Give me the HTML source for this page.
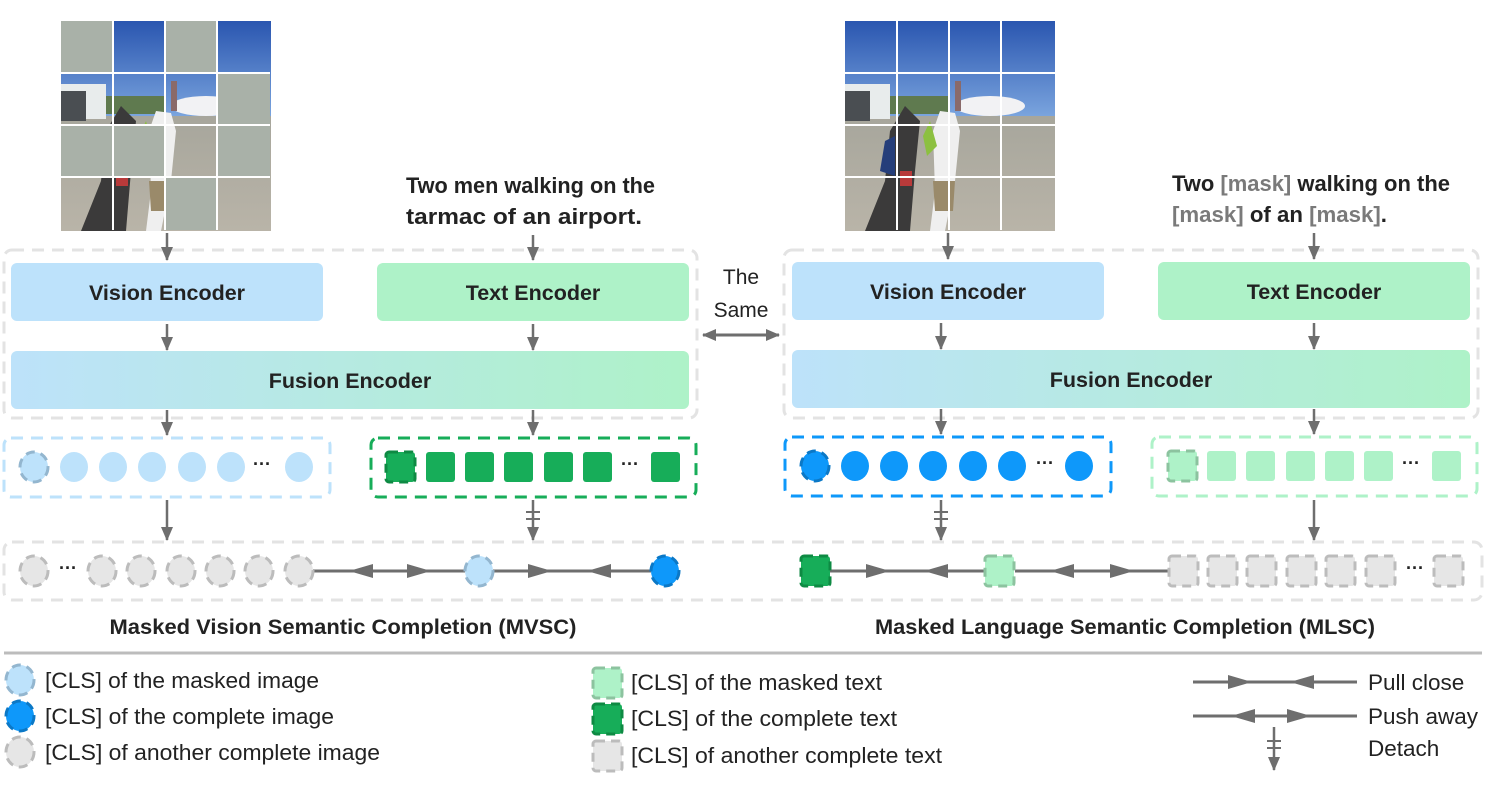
<!DOCTYPE html>
<html><head><meta charset="utf-8"><style>
html,body{margin:0;padding:0;background:#fff;}
svg{display:block;font-family:"Liberation Sans",sans-serif;}
.b{font-weight:bold;fill:#222;}
</style></head><body>
<svg width="1487" height="792" viewBox="0 0 1487 792" xmlns="http://www.w3.org/2000/svg">
<defs>
<linearGradient id="fus" x1="0" x2="1" y1="0" y2="0"><stop offset="0" stop-color="#bde2fa"/><stop offset="1" stop-color="#aef2c8"/></linearGradient>
<linearGradient id="sky" x1="0" x2="0" y1="0" y2="1"><stop offset="0" stop-color="#2a56b0"/><stop offset="1" stop-color="#7ea8e0"/></linearGradient>
<linearGradient id="gnd" x1="0" x2="0" y1="0" y2="1"><stop offset="0" stop-color="#a7a69c"/><stop offset="1" stop-color="#b9b4a8"/></linearGradient>
<marker id="ah" markerWidth="14" markerHeight="12" refX="13" refY="6" orient="auto" markerUnits="userSpaceOnUse"><path d="M0,0 L14,6 L0,12 Z" fill="#6e6e6e"/></marker>
<g id="photo">
<rect x="0" y="0" width="210" height="100" fill="url(#sky)"/>
<rect x="0" y="95" width="210" height="115" fill="url(#gnd)"/>
<rect x="0" y="63" width="45" height="35" fill="#e8ecec"/>
<rect x="0" y="70" width="25" height="30" fill="#4a4e52"/>
<rect x="45" y="75" width="60" height="18" fill="#5f7a4f"/>
<ellipse cx="145" cy="85" rx="35" ry="10" fill="#f2f2f4"/>
<rect x="110" y="60" width="6" height="30" fill="#8a6a6a"/>
<path d="M20,210 L40,160 L45,110 L60,85 L75,100 L70,150 L65,210 Z" fill="#3b3a3a"/>
<path d="M50,115 L40,120 L35,150 L50,155 Z" fill="#253e7a"/>
<rect x="55" y="150" width="12" height="15" fill="#b83a3a"/>
<path d="M85,210 L90,170 L88,110 L95,90 L110,92 L115,110 L110,160 L100,210 Z" fill="#efefef"/>
<path d="M88,160 L110,160 L108,190 L90,190 Z" fill="#9a8a6a"/>
<path d="M85,100 L78,115 L82,135 L92,125 Z" fill="#8cc040"/>
</g>
</defs>

<g transform="translate(61,21)"><use href="#photo"/></g>
<g fill="#a9b1a8">
<rect x="61" y="21" width="53" height="53"/><rect x="165" y="21" width="53" height="53"/>
<rect x="217" y="73" width="53" height="53"/>
<rect x="61" y="125" width="53" height="53"/><rect x="113" y="125" width="53" height="53"/><rect x="217" y="125" width="53" height="53"/>
<rect x="165" y="177" width="53" height="53"/>
</g>
<g stroke="#fff" stroke-width="2"><line x1="113" y1="21" x2="113" y2="230"/><line x1="165" y1="21" x2="165" y2="230"/><line x1="217" y1="21" x2="217" y2="230"/><line x1="61" y1="73" x2="270" y2="73"/><line x1="61" y1="125" x2="270" y2="125"/><line x1="61" y1="177" x2="270" y2="177"/></g>

<g transform="translate(845,21)"><use href="#photo"/></g>
<g stroke="#fff" stroke-width="2"><line x1="897" y1="21" x2="897" y2="230"/><line x1="949" y1="21" x2="949" y2="230"/><line x1="1001" y1="21" x2="1001" y2="230"/><line x1="845" y1="73" x2="1055" y2="73"/><line x1="845" y1="125" x2="1055" y2="125"/><line x1="845" y1="177" x2="1055" y2="177"/></g>

<text x="406" y="193" class="b" font-size="22" textLength="249" lengthAdjust="spacingAndGlyphs">Two men walking on the</text>
<text x="406" y="224" class="b" font-size="22" textLength="236" lengthAdjust="spacingAndGlyphs">tarmac of an airport.</text>
<text x="1172" y="191" class="b" font-size="22" textLength="278" lengthAdjust="spacingAndGlyphs">Two <tspan fill="#7a7a7a">[mask]</tspan> walking on the</text>
<text x="1172" y="222" class="b" font-size="22" textLength="215" lengthAdjust="spacingAndGlyphs"><tspan fill="#7a7a7a">[mask]</tspan> of an <tspan fill="#7a7a7a">[mask]</tspan>.</text>

<g fill="none" stroke="#e3e3e3" stroke-width="3" stroke-dasharray="12,8">
<rect x="4" y="250" width="693" height="168" rx="8"/>
<rect x="784" y="250" width="694" height="168" rx="8"/>
<rect x="4" y="542" width="1478" height="58" rx="8"/>
</g>

<rect x="11" y="263" width="312" height="58" rx="6" fill="#bde2fb"/>
<rect x="377" y="263" width="312" height="58" rx="6" fill="#aef2c8"/>
<rect x="11" y="351" width="678" height="58" rx="6" fill="url(#fus)"/>
<text x="167" y="300" class="b" font-size="21.5" text-anchor="middle">Vision Encoder</text>
<text x="533" y="300" class="b" font-size="21.5" text-anchor="middle">Text Encoder</text>
<text x="350" y="388" class="b" font-size="21.5" text-anchor="middle">Fusion Encoder</text>

<rect x="792" y="262" width="312" height="58" rx="6" fill="#bde2fb"/>
<rect x="1158" y="262" width="312" height="58" rx="6" fill="#aef2c8"/>
<rect x="792" y="350" width="678" height="58" rx="6" fill="url(#fus)"/>
<text x="948" y="299" class="b" font-size="21.5" text-anchor="middle">Vision Encoder</text>
<text x="1314" y="299" class="b" font-size="21.5" text-anchor="middle">Text Encoder</text>
<text x="1131" y="387" class="b" font-size="21.5" text-anchor="middle">Fusion Encoder</text>

<text x="741" y="284" font-size="21" fill="#222" text-anchor="middle">The</text>
<text x="741" y="317" font-size="21" fill="#222" text-anchor="middle">Same</text>
<g stroke="#6e6e6e" stroke-width="3" fill="none">
<line x1="712" y1="335" x2="779" y2="335" marker-end="url(#ah)"/>
<line x1="770" y1="335" x2="703" y2="335" marker-end="url(#ah)"/>
</g>

<g stroke="#6e6e6e" stroke-width="2.5" fill="none" marker-end="url(#ah)">
<line x1="167" y1="233" x2="167" y2="260"/>
<line x1="533" y1="235" x2="533" y2="260"/>
<line x1="167" y1="324" x2="167" y2="350"/>
<line x1="533" y1="324" x2="533" y2="350"/>
<line x1="167" y1="410" x2="167" y2="435"/>
<line x1="533" y1="410" x2="533" y2="435"/>
<line x1="948" y1="233" x2="948" y2="259"/>
<line x1="1314" y1="233" x2="1314" y2="259"/>
<line x1="941" y1="323" x2="941" y2="349"/>
<line x1="1314" y1="323" x2="1314" y2="349"/>
<line x1="941" y1="409" x2="941" y2="434"/>
<line x1="1314" y1="409" x2="1314" y2="434"/>
<line x1="167" y1="500" x2="167" y2="540"/>
<line x1="533" y1="500" x2="533" y2="540"/>
<line x1="941" y1="500" x2="941" y2="540"/>
<line x1="1314" y1="500" x2="1314" y2="540"/>
<line x1="1274" y1="727" x2="1274" y2="770"/>
</g>
<g stroke="#6e6e6e" stroke-width="2">
<line x1="526" y1="512" x2="540" y2="512"/><line x1="526" y1="519" x2="540" y2="519"/>
<line x1="934" y1="512" x2="948" y2="512"/><line x1="934" y1="519" x2="948" y2="519"/>
<line x1="1267" y1="741" x2="1281" y2="741"/><line x1="1267" y1="748" x2="1281" y2="748"/>
</g>

<g fill="none" stroke-width="3" stroke-dasharray="12,8">
<rect x="4" y="438" width="326" height="59" rx="7" stroke="#bde2fb"/>
<rect x="371" y="438" width="325" height="59" rx="7" stroke="#17ad59"/>
<rect x="785" y="437" width="326" height="59" rx="7" stroke="#0e98fa"/>
<rect x="1152" y="437" width="325" height="59" rx="7" stroke="#aef2c8"/>
</g>

<g fill="#bde2fb">
<ellipse cx="34" cy="467" rx="14" ry="15" stroke="#93b6cf" stroke-width="3" stroke-dasharray="9,6"/>
<ellipse cx="74" cy="467" rx="14" ry="15"/><ellipse cx="113" cy="467" rx="14" ry="15"/><ellipse cx="152" cy="467" rx="14" ry="15"/><ellipse cx="192" cy="467" rx="14" ry="15"/><ellipse cx="231" cy="467" rx="14" ry="15"/><ellipse cx="299" cy="467" rx="14" ry="15"/>
</g>
<text x="262" y="470" font-size="18" font-weight="bold" text-anchor="middle" fill="#222">···</text>
<g fill="#17ad59">
<rect x="386" y="452" width="29" height="30" rx="3" stroke="#0e8a43" stroke-width="3" stroke-dasharray="9,6"/>
<rect x="426" y="452" width="29" height="30" rx="3"/><rect x="465" y="452" width="29" height="30" rx="3"/><rect x="504" y="452" width="29" height="30" rx="3"/><rect x="544" y="452" width="29" height="30" rx="3"/><rect x="583" y="452" width="29" height="30" rx="3"/><rect x="651" y="452" width="29" height="30" rx="3"/>
</g>
<text x="630" y="470" font-size="18" font-weight="bold" text-anchor="middle" fill="#222">···</text>
<g fill="#0e98fa">
<ellipse cx="815" cy="466" rx="14" ry="15" stroke="#0b78c6" stroke-width="3" stroke-dasharray="9,6"/>
<ellipse cx="855" cy="466" rx="14" ry="15"/><ellipse cx="894" cy="466" rx="14" ry="15"/><ellipse cx="933" cy="466" rx="14" ry="15"/><ellipse cx="973" cy="466" rx="14" ry="15"/><ellipse cx="1012" cy="466" rx="14" ry="15"/><ellipse cx="1079" cy="466" rx="14" ry="15"/>
</g>
<text x="1045" y="469" font-size="18" font-weight="bold" text-anchor="middle" fill="#222">···</text>
<g fill="#aef2c8">
<rect x="1168" y="451" width="29" height="30" rx="3" stroke="#8cc39f" stroke-width="3" stroke-dasharray="9,6"/>
<rect x="1207" y="451" width="29" height="30" rx="3"/><rect x="1246" y="451" width="29" height="30" rx="3"/><rect x="1286" y="451" width="29" height="30" rx="3"/><rect x="1325" y="451" width="29" height="30" rx="3"/><rect x="1364" y="451" width="29" height="30" rx="3"/><rect x="1432" y="451" width="29" height="30" rx="3"/>
</g>
<text x="1411" y="469" font-size="18" font-weight="bold" text-anchor="middle" fill="#222">···</text>

<g stroke="#6e6e6e" stroke-width="3">
<line x1="313" y1="571" x2="465" y2="571"/>
<line x1="493" y1="571" x2="651" y2="571"/>
<line x1="830" y1="571" x2="985" y2="571"/>
<line x1="1015" y1="571" x2="1168" y2="571"/>
<line x1="1193" y1="682" x2="1357" y2="682"/>
<line x1="1193" y1="716" x2="1357" y2="716"/>
</g>
<g fill="#6e6e6e">
<path d="M349,571 L373,564 L373,578 Z"/><path d="M431,571 L407,564 L407,578 Z"/>
<path d="M552,571 L528,564 L528,578 Z"/><path d="M587,571 L611,564 L611,578 Z"/>
<path d="M890,571 L866,564 L866,578 Z"/><path d="M924,571 L948,564 L948,578 Z"/>
<path d="M1050,571 L1074,564 L1074,578 Z"/><path d="M1134,571 L1110,564 L1110,578 Z"/>
<path d="M1252,682 L1228,675 L1228,689 Z"/><path d="M1290,682 L1314,675 L1314,689 Z"/>
<path d="M1231,716 L1255,709 L1255,723 Z"/><path d="M1311,716 L1287,709 L1287,723 Z"/>
</g>

<g fill="#e6e6e6" stroke="#bcbcbc" stroke-width="3" stroke-dasharray="9,6">
<ellipse cx="34" cy="571" rx="14" ry="15"/><ellipse cx="102" cy="571" rx="14" ry="15"/><ellipse cx="141" cy="571" rx="14" ry="15"/><ellipse cx="181" cy="571" rx="14" ry="15"/><ellipse cx="220" cy="571" rx="14" ry="15"/><ellipse cx="259" cy="571" rx="14" ry="15"/><ellipse cx="299" cy="571" rx="14" ry="15"/>
</g>
<text x="68" y="574" font-size="18" font-weight="bold" text-anchor="middle" fill="#222">···</text>
<ellipse cx="479" cy="571" rx="14" ry="15" fill="#bde2fb" stroke="#93b6cf" stroke-width="3" stroke-dasharray="9,6"/>
<ellipse cx="665" cy="571" rx="14" ry="15" fill="#0e98fa" stroke="#0b78c6" stroke-width="3" stroke-dasharray="9,6"/>
<rect x="801" y="556" width="29" height="30" rx="3" fill="#17ad59" stroke="#0e8a43" stroke-width="3" stroke-dasharray="9,6"/>
<rect x="985" y="556" width="29" height="30" rx="3" fill="#aef2c8" stroke="#8cc39f" stroke-width="3" stroke-dasharray="9,6"/>
<g fill="#e6e6e6" stroke="#bcbcbc" stroke-width="3" stroke-dasharray="9,6">
<rect x="1169" y="556" width="29" height="30" rx="3"/><rect x="1208" y="556" width="29" height="30" rx="3"/><rect x="1247" y="556" width="29" height="30" rx="3"/><rect x="1287" y="556" width="29" height="30" rx="3"/><rect x="1326" y="556" width="29" height="30" rx="3"/><rect x="1366" y="556" width="29" height="30" rx="3"/><rect x="1434" y="556" width="29" height="30" rx="3"/>
</g>
<text x="1415" y="574" font-size="18" font-weight="bold" text-anchor="middle" fill="#222">···</text>

<text x="343" y="634" class="b" font-size="21.5" text-anchor="middle" textLength="467" lengthAdjust="spacingAndGlyphs">Masked Vision Semantic Completion (MVSC)</text>
<text x="1125" y="634" class="b" font-size="21.5" text-anchor="middle" textLength="500" lengthAdjust="spacingAndGlyphs">Masked Language Semantic Completion (MLSC)</text>
<line x1="4" y1="653" x2="1482" y2="653" stroke="#bcbcbc" stroke-width="3"/>

<ellipse cx="20" cy="680" rx="14" ry="15" fill="#bde2fb" stroke="#93b6cf" stroke-width="3" stroke-dasharray="9,6"/>
<ellipse cx="20" cy="716" rx="14" ry="15" fill="#0e98fa" stroke="#0b78c6" stroke-width="3" stroke-dasharray="9,6"/>
<ellipse cx="20" cy="752" rx="14" ry="15" fill="#e6e6e6" stroke="#bcbcbc" stroke-width="3" stroke-dasharray="9,6"/>
<g font-size="22.5" fill="#222">
<text x="45" y="688" textLength="274" lengthAdjust="spacingAndGlyphs">[CLS] of the masked image</text>
<text x="45" y="724" textLength="289" lengthAdjust="spacingAndGlyphs">[CLS] of the complete image</text>
<text x="45" y="760" textLength="335" lengthAdjust="spacingAndGlyphs">[CLS] of another complete image</text>
<text x="631" y="690" textLength="251" lengthAdjust="spacingAndGlyphs">[CLS] of the masked text</text>
<text x="631" y="726" textLength="266" lengthAdjust="spacingAndGlyphs">[CLS] of the complete text</text>
<text x="631" y="763" textLength="311" lengthAdjust="spacingAndGlyphs">[CLS] of another complete text</text>
<text x="1368" y="690">Pull close</text>
<text x="1368" y="724">Push away</text>
<text x="1368" y="756">Detach</text>
</g>
<rect x="593" y="668" width="29" height="30" rx="3" fill="#aef2c8" stroke="#8cc39f" stroke-width="3" stroke-dasharray="9,6"/>
<rect x="593" y="704" width="29" height="30" rx="3" fill="#17ad59" stroke="#0e8a43" stroke-width="3" stroke-dasharray="9,6"/>
<rect x="593" y="741" width="29" height="30" rx="3" fill="#e6e6e6" stroke="#bcbcbc" stroke-width="3" stroke-dasharray="9,6"/>
</svg>
</body></html>
